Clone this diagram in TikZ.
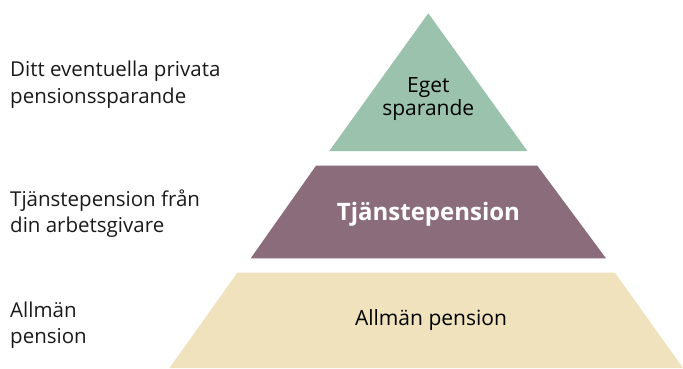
\documentclass[tikz,border=0pt]{standalone}
\usepackage{fontspec}
\setmainfont{Open Sans}
\definecolor{topgreen}{HTML}{9BC2AD}
\definecolor{midpurple}{HTML}{8A6C7A}
\definecolor{basebeige}{HTML}{EFE2BC}
\definecolor{textdark}{HTML}{1A1A1A}
\begin{document}
\begin{tikzpicture}[x=1pt,y=-1pt,
  sidelabel/.style={anchor=base west,align=left,inner sep=0pt,text=textdark,
    font=\fontsize{20.5}{26.3}\selectfont},
  layerlabel/.style={anchor=base,align=center,inner sep=0pt,text=black},
]
\useasboundingbox (0,0) rectangle (683,368);
% pyramid layers
\path[fill=topgreen] (428.3,13.3) -- (527.3,151) -- (329.3,151) -- cycle;
\path[fill=midpurple] (316,165.7) -- (537.3,165.7) -- (606,258.3) -- (250.7,258.3) -- cycle;
\path[fill=basebeige] (237.3,272.7) -- (615,272.7) -- (683,368) -- (169.5,368) -- cycle;
% layer labels (base anchor = last line baseline)
\node[layerlabel,font=\fontsize{21}{22.5}\selectfont] (eget) at (428.3,115) {Eget\\sparande};
\node[layerlabel,text=white,font=\bfseries\fontsize{24}{28}\selectfont] (tjanst) at (428.5,220) {Tjänstepension};
\node[layerlabel,font=\fontsize{21}{22}\selectfont] (allman) at (431,325) {Allmän pension};
% side labels
\node[sidelabel] (privat) at (10,103) {Ditt eventuella privata\\pensionssparande};
\node[sidelabel] (tjanstside) at (10,232.7) {Tjänstepension från\\din arbetsgivare};
\node[sidelabel] (allmanside) at (10,343.3) {Allmän\\pension};
\end{tikzpicture}
\end{document}
